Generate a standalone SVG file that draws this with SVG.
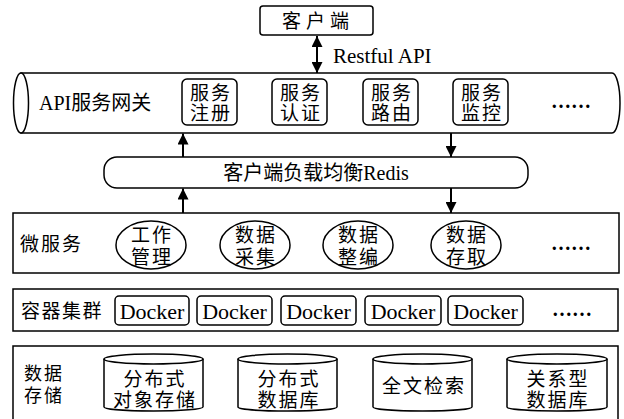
<svg xmlns="http://www.w3.org/2000/svg" width="624" height="419" viewBox="0 0 624 419">
<style>
.ln{fill:none;stroke:#000;stroke-width:1.5}
.bx{fill:#fff;stroke:#000;stroke-width:1.5}
.t{font-family:"Liberation Serif","Noto Sans CJK SC",serif;font-size:19px;fill:#000}
.c{text-anchor:middle}
.cj{letter-spacing:2px}
.dots{font-family:"Liberation Serif",serif;font-size:20px;font-weight:bold;fill:#000}
.ar{fill:none;stroke:#000;stroke-width:2}
</style>
<defs>
<marker id="ah" viewBox="0 0 10 10" refX="10" refY="5" markerWidth="11" markerHeight="11" markerUnits="userSpaceOnUse" orient="auto-start-reverse">
<path d="M0,0 L10,5 L0,10 z" fill="#000"/>
</marker>
</defs>
<rect width="624" height="419" fill="#fff"/>

<g id="client">
<rect class="bx" x="260" y="6" width="113" height="29" rx="3"/>
<text class="t c" x="318" y="28" style="letter-spacing:5px">客户端</text>
</g>

<g id="gateway">
<path class="bx" d="M21,73 H612 A8,30 0 0 1 612,133 H21 Z"/>
<ellipse class="bx" cx="21" cy="103" rx="7.5" ry="30"/>
<text class="t" x="39" y="110" style="font-size:20px">API服务网关</text>
<text class="dots" x="551" y="108">……</text>
</g>
<g id="gw-register">
<rect class="bx" x="182" y="79" width="55" height="46" rx="5"/>
<text class="t c cj" x="211" y="100">服务</text>
<text class="t c cj" x="211" y="120">注册</text>
</g>
<g id="gw-auth">
<rect class="bx" x="272" y="79" width="55" height="46" rx="5"/>
<text class="t c cj" x="301" y="100">服务</text>
<text class="t c cj" x="301" y="120">认证</text>
</g>
<g id="gw-route">
<rect class="bx" x="363" y="79" width="55" height="46" rx="5"/>
<text class="t c cj" x="392" y="100">服务</text>
<text class="t c cj" x="392" y="120">路由</text>
</g>
<g id="gw-monitor">
<rect class="bx" x="453" y="79" width="55" height="46" rx="5"/>
<text class="t c cj" x="482" y="100">服务</text>
<text class="t c cj" x="482" y="120">监控</text>
</g>

<g id="redis">
<rect class="bx" x="104" y="157" width="424" height="31" rx="13"/>
<text class="t c" x="316" y="180" style="font-size:20px">客户端负载均衡Redis</text>
</g>

<g id="microservices">
<rect class="bx" x="13" y="213" width="606" height="60"/>
<text class="t cj" x="20" y="251">微服务</text>
<text class="dots" x="551" y="250">……</text>
</g>
<g id="ms-work">
<ellipse class="bx" cx="151" cy="245" rx="35" ry="24"/>
<text class="t c cj" x="152" y="242">工作</text>
<text class="t c cj" x="152" y="264">管理</text>
</g>
<g id="ms-collect">
<ellipse class="bx" cx="255" cy="245" rx="35" ry="24"/>
<text class="t c cj" x="256" y="242">数据</text>
<text class="t c cj" x="256" y="264">采集</text>
</g>
<g id="ms-edit">
<ellipse class="bx" cx="358" cy="245" rx="35" ry="24"/>
<text class="t c cj" x="359" y="242">数据</text>
<text class="t c cj" x="359" y="264">整编</text>
</g>
<g id="ms-access">
<ellipse class="bx" cx="466" cy="245" rx="35" ry="24"/>
<text class="t c cj" x="467" y="242">数据</text>
<text class="t c cj" x="467" y="264">存取</text>
</g>

<g id="containers">
<rect class="bx" x="13" y="289" width="605" height="42"/>
<text class="t" x="21" y="318" style="letter-spacing:1.5px">容器集群</text>
<text class="dots" x="552" y="316">……</text>
</g>
<g id="docker1"><rect class="bx" x="115" y="296" width="74" height="29" rx="4"/><text class="t c" x="152" y="319" style="font-size:22px">Docker</text></g>
<g id="docker2"><rect class="bx" x="197" y="296" width="75" height="29" rx="4"/><text class="t c" x="234.5" y="319" style="font-size:22px">Docker</text></g>
<g id="docker3"><rect class="bx" x="281" y="296" width="75" height="29" rx="4"/><text class="t c" x="318.5" y="319" style="font-size:22px">Docker</text></g>
<g id="docker4"><rect class="bx" x="365" y="296" width="76" height="29" rx="4"/><text class="t c" x="403" y="319" style="font-size:22px">Docker</text></g>
<g id="docker5"><rect class="bx" x="448" y="296" width="75" height="29" rx="4"/><text class="t c" x="485.5" y="319" style="font-size:22px">Docker</text></g>

<g id="storage">
<path class="ln" d="M13,421 V346 H618 V421"/>
<text class="t cj" x="24" y="380" style="font-size:18px">数据</text>
<text class="t cj" x="24" y="402" style="font-size:18px">存储</text>
</g>
<g id="st-object">
<path class="bx" d="M104,359 V407 A49.5,4 0 0 0 203,407 V359"/>
<ellipse class="bx" cx="153.5" cy="359" rx="49.5" ry="5"/>
<text class="t c cj" x="155" y="386">分布式</text>
<text class="t c cj" x="155" y="407">对象存储</text>
</g>
<g id="st-db">
<path class="bx" d="M238,359 V407 A49.5,4 0 0 0 337,407 V359"/>
<ellipse class="bx" cx="287.5" cy="359" rx="49.5" ry="5"/>
<text class="t c cj" x="289" y="386">分布式</text>
<text class="t c cj" x="289" y="407">数据库</text>
</g>
<g id="st-search">
<path class="bx" d="M373,359 V407 A49.5,4 0 0 0 472,407 V359"/>
<ellipse class="bx" cx="422.5" cy="359" rx="49.5" ry="5"/>
<text class="t c cj" x="424" y="393">全文检索</text>
</g>
<g id="st-rdb">
<path class="bx" d="M507,359 V407 A50,4 0 0 0 607,407 V359"/>
<ellipse class="bx" cx="557" cy="359" rx="50" ry="5"/>
<text class="t c cj" x="558" y="386">关系型</text>
<text class="t c cj" x="558" y="407">数据库</text>
</g>

<g id="connectors">
<line class="ar" x1="317" y1="36" x2="317" y2="73" marker-start="url(#ah)" marker-end="url(#ah)"/>
<text class="t" x="333" y="63" style="font-size:21px">Restful API</text>
<line class="ar" x1="183" y1="157" x2="183" y2="133.5" marker-end="url(#ah)"/>
<line class="ar" x1="451" y1="133" x2="451" y2="157" marker-end="url(#ah)"/>
<line class="ar" x1="183" y1="213" x2="183" y2="188.5" marker-end="url(#ah)"/>
<line class="ar" x1="451" y1="188" x2="451" y2="213" marker-end="url(#ah)"/>
</g>
</svg>
